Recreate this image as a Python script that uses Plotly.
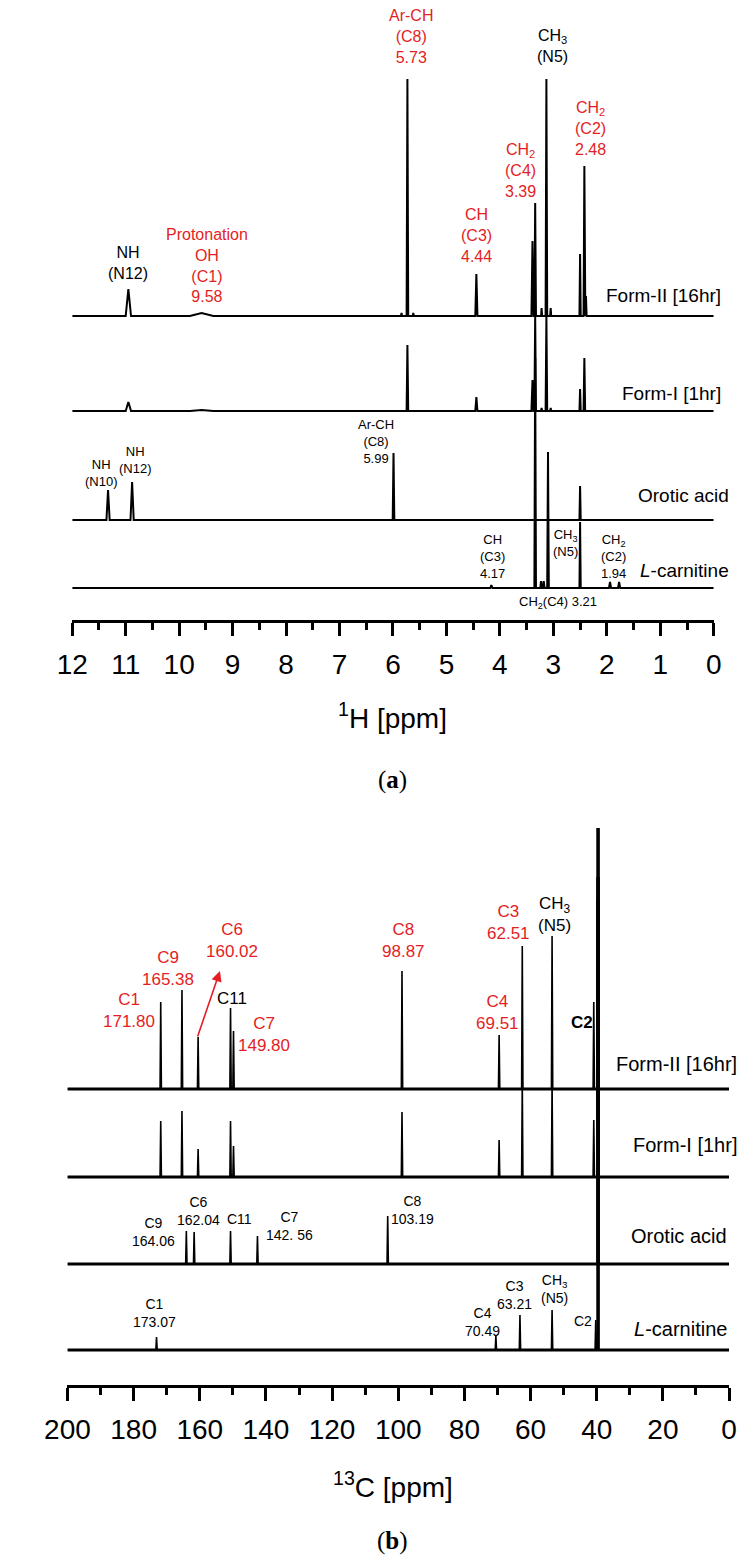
import plotly.graph_objects as go

W, H = 754, 1558
FONT = "Liberation Sans, Arial, sans-serif"
SERIF = "Liberation Serif, DejaVu Serif, serif"
RED = "#E31E24"

# ---------------- 1H NMR data (panel a) ----------------
h1_range = [12, 0]
h1_form2_ppm = [10.95, 9.58, 5.84, 5.73, 5.62, 4.44, 3.39, 3.34, 3.22, 3.13, 3.05, 2.50, 2.42, 2.39]
h1_form2_int = [27, 3, 3, 237, 3, 42, 75, 113, 8, 237, 8, 62, 150, 20]
h1_form2_hw = [0.05, 0.22, 0.01, 0.015, 0.01, 0.02, 0.02, 0.015, 0.01, 0.015, 0.01, 0.012, 0.015, 0.012]

h1_form1_ppm = [10.95, 9.58, 5.73, 4.44, 3.39, 3.34, 3.22, 3.13, 3.05, 2.50, 2.42]
h1_form1_int = [9, 1, 66, 14, 31, 95, 3, 95, 3, 22, 53]
h1_form1_hw = [0.05, 0.22, 0.015, 0.02, 0.02, 0.015, 0.01, 0.015, 0.01, 0.012, 0.015]

h1_orotic_ppm = [11.33, 10.88, 5.99, 2.50]
h1_orotic_int = [30, 38, 67, 34]
h1_orotic_hw = [0.03, 0.03, 0.015, 0.012]

h1_lcarn_ppm = [4.16, 3.34, 3.23, 3.18, 3.10, 2.50, 1.94, 1.77]
h1_lcarn_int = [3, 230, 7, 7, 136, 66, 6, 6]
h1_lcarn_hw = [0.02, 0.015, 0.015, 0.015, 0.015, 0.012, 0.02, 0.02]

# ---------------- 13C NMR data (panel b) ----------------
c13_range = [200, 0]
c13_form2_ppm = [171.80, 165.38, 160.5, 150.7, 149.8, 98.87, 69.51, 62.51, 53.5, 40.9]
c13_form2_int = [87, 99, 52, 81, 58, 118, 54, 143, 153, 87]
c13_form1_ppm = [171.80, 165.38, 160.5, 150.7, 149.8, 98.87, 69.51, 62.51, 53.5, 40.9]
c13_form1_int = [56, 66, 28, 56, 31, 65, 37, 95, 95, 57]
c13_orotic_ppm = [164.06, 161.7, 150.7, 142.56, 103.19]
c13_orotic_int = [33, 32, 33, 28, 48]
c13_lcarn_ppm = [173.07, 70.49, 63.21, 53.5, 40.3]
c13_lcarn_int = [13, 14, 35, 40, 30]
# DMSO-d6 solvent line (ppm) and its height in each spectrum
c13_solvent_ppm = 39.6
c13_solvent_int = {"form2": 261, "form1": 300, "orotic": 300, "lcarn": 450}

# stacking offsets (layout)
h1_offsets = {"form2": 304, "form1": 209, "orotic": 100, "lcarn": 32}
c13_offsets = {"form2": 296, "form1": 208, "orotic": 121, "lcarn": 35}


def stick_spectrum(ppm, inten, hw, base, xr):
    pk = sorted(zip(ppm, inten, hw), key=lambda t: -t[0])
    xs, ys = [xr[0]], [base]
    for p, h, w in pk:
        xs += [p + w, p, p - w]
        ys += [base, base + h, base]
    xs.append(xr[1])
    ys.append(base)
    return xs, ys


fig = go.Figure()

h1_sets = [
    (h1_form2_ppm, h1_form2_int, h1_form2_hw, h1_offsets["form2"]),
    (h1_form1_ppm, h1_form1_int, h1_form1_hw, h1_offsets["form1"]),
    (h1_orotic_ppm, h1_orotic_int, h1_orotic_hw, h1_offsets["orotic"]),
    (h1_lcarn_ppm, h1_lcarn_int, h1_lcarn_hw, h1_offsets["lcarn"]),
]
for p, i, w, b in h1_sets:
    xs, ys = stick_spectrum(p, i, w, b, h1_range)
    fig.add_trace(go.Scatter(x=xs, y=ys, mode="lines", line=dict(color="black", width=2),
                             xaxis="x", yaxis="y", showlegend=False, hoverinfo="skip"))

c13_sets = [
    ("form2", c13_form2_ppm, c13_form2_int),
    ("form1", c13_form1_ppm, c13_form1_int),
    ("orotic", c13_orotic_ppm, c13_orotic_int),
    ("lcarn", c13_lcarn_ppm, c13_lcarn_int),
]
for key, p, i in c13_sets:
    b = c13_offsets[key]
    w = [0.2] * len(p)
    xs, ys = stick_spectrum(p, i, w, b, c13_range)
    fig.add_trace(go.Scatter(x=xs, y=ys, mode="lines", line=dict(color="black", width=1.6),
                             xaxis="x2", yaxis="y2", showlegend=False, hoverinfo="skip"))
    fig.add_trace(go.Scatter(x=c13_range, y=[b, b], mode="lines", line=dict(color="black", width=2.8),
                             xaxis="x2", yaxis="y2", showlegend=False, hoverinfo="skip"))
    fig.add_trace(go.Scatter(x=[c13_solvent_ppm, c13_solvent_ppm], y=[b, b + c13_solvent_int[key]],
                             mode="lines", line=dict(color="black", width=3.6),
                             xaxis="x2", yaxis="y2", showlegend=False, hoverinfo="skip"))


def px(x):
    return x / W


def py(y):
    return 1 - y / H


ann = []


def lab(x, y, text, size, color="black", ref="1", xanchor="center", family=FONT):
    xr = "x" if ref == "1" else "x2"
    yr = "y" if ref == "1" else "y2"
    ann.append(dict(x=x, y=y, xref=xr, yref=yr, text=text, showarrow=False,
                    font=dict(size=size, color=color, family=family),
                    xanchor=xanchor, yanchor="middle", align="center"))


def plab(x, y, text, size, color="black", xanchor="center", family=FONT):
    ann.append(dict(x=px(x), y=py(y), xref="paper", yref="paper", text=text, showarrow=False,
                    font=dict(size=size, color=color, family=family),
                    xanchor=xanchor, yanchor="middle", align="center"))


# panel a: Form-II labels
lab(10.96, 357, "NH<br>(N12)", 16)
lab(9.47, 355, "Protonation<br>OH<br>(C1)<br>9.58", 16, RED)
lab(5.67, 584, "Ar-CH<br>(C8)<br>5.73", 16, RED)
lab(4.43, 385, "CH<br>(C3)<br>4.44", 16, RED)
lab(3.61, 450, "CH<sub>2</sub><br>(C4)<br>3.39", 16, RED)
lab(3.01, 574, "CH<sub>3</sub><br>(N5)", 16)
lab(2.30, 492, "CH<sub>2</sub><br>(C2)<br>2.48", 16, RED)
# orotic acid
lab(11.46, 147, "NH<br>(N10)", 13)
lab(10.82, 160, "NH<br>(N12)", 13)
lab(6.31, 179, "Ar-CH<br>(C8)<br>5.99", 13)
# L-carnitine
lab(4.13, 64, "CH<br>(C3)<br>4.17", 13)
lab(2.78, 77, "CH<sub>3</sub><br>(N5)", 13)
lab(1.87, 64, "CH<sub>2</sub><br>(C2)<br>1.94", 13)
lab(2.91, 18, "CH<sub>2</sub>(C4) 3.21", 13)

# panel b: Form-II labels
lab(181.4, 374.5, "C1<br>171.80", 17, RED, "2")
lab(169.6, 416.5, "C9<br>165.38", 17, RED, "2")
lab(150.4, 444.5, "C6<br>160.02", 17, RED, "2")
lab(150.4, 387, "C11", 17, "black", "2")
lab(140.6, 350.5, "C7<br>149.80", 17, RED, "2")
lab(98.3, 445, "C8<br>98.87", 17, RED, "2")
lab(66.7, 462.5, "C3<br>62.51", 17, RED, "2")
lab(52.8, 470.5, "CH<sub>3</sub><br>(N5)", 17, "black", "2")
lab(70.1, 372.5, "C4<br>69.51", 17, RED, "2")
lab(44.6, 363, "<b>C2</b>", 17, "black", "2")
# orotic acid
lab(173.9, 153.5, "C9<br>164.06", 14, "black", "2")
lab(160.3, 174, "C6<br>162.04", 14, "black", "2")
lab(148.1, 166, "C11", 14, "black", "2")
lab(133.0, 159, "C7<br>142. 56", 14, "black", "2")
lab(95.7, 175.5, "C8<br>103.19", 14, "black", "2")
# L-carnitine
lab(173.6, 72.5, "C1<br>173.07", 14, "black", "2")
lab(74.5, 63.5, "C4<br>70.49", 14, "black", "2")
lab(64.9, 90, "C3<br>63.21", 14, "black", "2")
lab(52.8, 96, "CH<sub>3</sub><br>(N5)", 14, "black", "2")
lab(44.3, 64, "C2", 14, "black", "2")

# red arrow C6
ann.append(dict(x=153.9, y=414, ax=160.8, ay=347, xref="x2", yref="y2", axref="x2", ayref="y2",
                text="", showarrow=True, arrowhead=2, arrowsize=1.3, arrowwidth=1.6,
                arrowcolor=RED, standoff=0, startstandoff=0))

# spectrum names
plab(722, 287, "Form-II [16hr]", 19, xanchor="right")
plab(722, 385, "Form-I [1hr]", 19, xanchor="right")
plab(730, 487, "Orotic acid", 19, xanchor="right")
plab(730, 562, "<i>L</i>-carnitine", 19, xanchor="right")
plab(738, 1056, "Form-II [16hr]", 20, xanchor="right")
plab(738, 1137, "Form-I [1hr]", 20, xanchor="right")
plab(728, 1228, "Orotic acid", 20, xanchor="right")
plab(728, 1321, "<i>L</i>-carnitine", 20, xanchor="right")

# axis titles and panel letters
plab(377, 708, "<sup>1</sup>H [ppm]", 28)
plab(377, 772, "(<b>a</b>)", 25, family=SERIF)
plab(377, 1477, "<sup>13</sup>C [ppm]", 28)
plab(377, 1533, "(<b>b</b>)", 25, family=SERIF)

axis_common = dict(showline=True, linewidth=3, linecolor="black", ticks="outside", ticklen=13,
                   tickwidth=2.5, tickcolor="black", showgrid=False, zeroline=False,
                   tickfont=dict(size=28, family=FONT, color="black"), ticklabelstandoff=4)

fig.update_layout(
    width=W, height=H, margin=dict(l=0, r=0, t=0, b=0),
    paper_bgcolor="white", plot_bgcolor="white", showlegend=False,
    xaxis=dict(domain=[43 / W, 712 / W], range=h1_range, anchor="y", dtick=1, tick0=0,
               minor=dict(dtick=0.5, ticks="outside", ticklen=7, tickwidth=2.5, tickcolor="black", showgrid=False),
               **axis_common),
    yaxis=dict(domain=[py(612), 1], range=[0, 612], visible=False, fixedrange=True),
    xaxis2=dict(domain=[38 / W, 728 / W], range=c13_range, anchor="y2", dtick=20, tick0=0,
                minor=dict(dtick=10, ticks="outside", ticklen=7, tickwidth=2.5, tickcolor="black", showgrid=False),
                **axis_common),
    yaxis2=dict(domain=[py(1377), py(770)], range=[0, 607], visible=False, fixedrange=True),
    annotations=ann,
)

fig.write_html("out.html")
